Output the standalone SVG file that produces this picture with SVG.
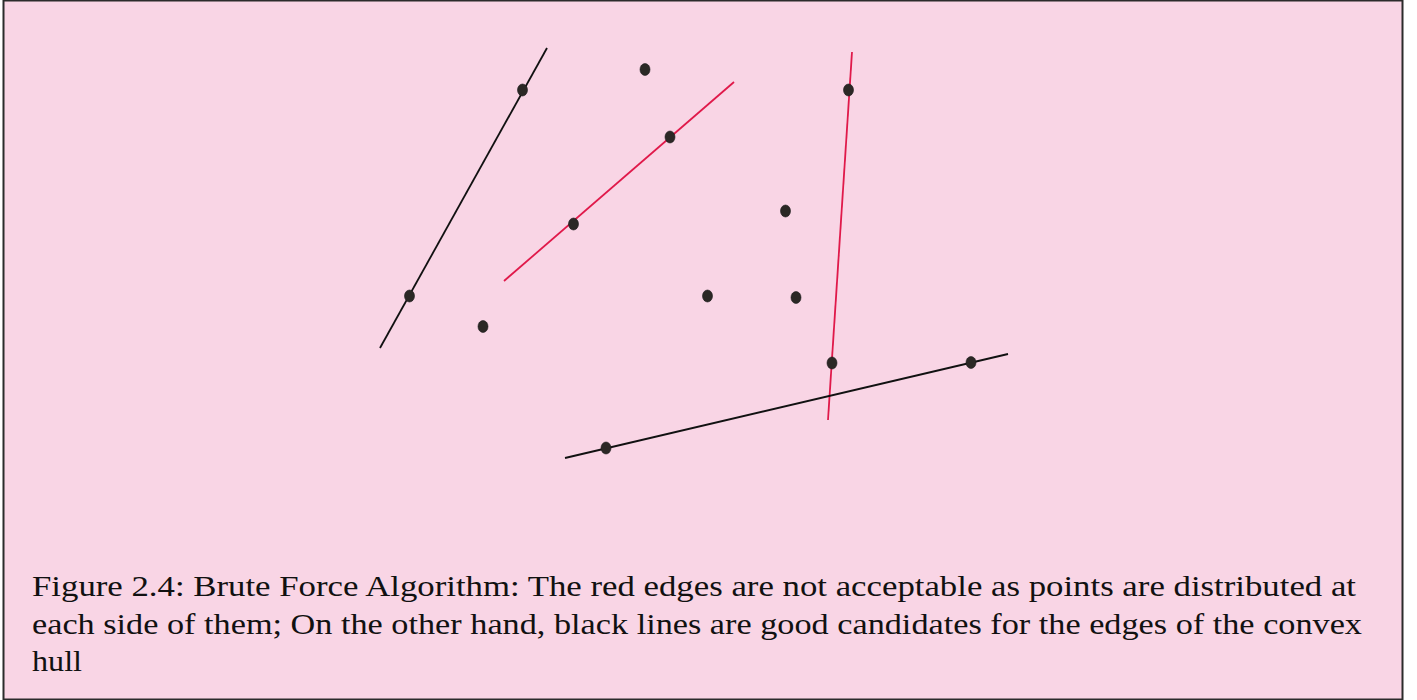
<svg xmlns="http://www.w3.org/2000/svg" width="1417" height="700" viewBox="0 0 1417 700">
<style>
.bg{fill:#f9d5e5;stroke:#2b2b2b;stroke-width:2}
.good{stroke:#111;stroke-width:1.8;fill:none}
.bad{stroke:#e0194a;stroke-width:1.8;fill:none}
.pt{fill:#2b2825;stroke:#1a1a1a;stroke-width:0.6}
.cap{font-family:"Liberation Serif","DejaVu Serif",serif;font-size:29.5px;fill:#111}
</style>
<rect x="0" y="0" width="1417" height="700" fill="#ffffff"/>
<rect class="bg" x="3.5" y="0.5" width="1399" height="699"/>
<g id="connectors">
<line class="good" x1="380" y1="348" x2="547" y2="48"/>
<line class="bad" x1="504" y1="281" x2="734" y2="82"/>
<line class="bad" x1="852" y1="52" x2="828" y2="420"/>
<line class="good" x1="565" y1="458" x2="1008" y2="354"/>
</g>
<g id="p1"><ellipse class="pt" cx="522.5" cy="90" rx="5" ry="6"/></g>
<g id="p2"><ellipse class="pt" cx="409.5" cy="296" rx="5" ry="6"/></g>
<g id="p3"><ellipse class="pt" cx="483" cy="326.5" rx="5" ry="6"/></g>
<g id="p4"><ellipse class="pt" cx="645" cy="69.5" rx="5" ry="6"/></g>
<g id="p5"><ellipse class="pt" cx="670" cy="137" rx="5" ry="6"/></g>
<g id="p6"><ellipse class="pt" cx="573.5" cy="224" rx="5" ry="6"/></g>
<g id="p7"><ellipse class="pt" cx="785.5" cy="211" rx="5" ry="6"/></g>
<g id="p8"><ellipse class="pt" cx="707.5" cy="296" rx="5" ry="6"/></g>
<g id="p9"><ellipse class="pt" cx="796" cy="297.5" rx="5" ry="6"/></g>
<g id="p10"><ellipse class="pt" cx="848.5" cy="90" rx="5" ry="6"/></g>
<g id="p11"><ellipse class="pt" cx="832" cy="363" rx="5" ry="6"/></g>
<g id="p12"><ellipse class="pt" cx="971" cy="362.5" rx="5" ry="6"/></g>
<g id="p13"><ellipse class="pt" cx="606" cy="448" rx="5" ry="6"/></g>
<g id="caption">
<text class="cap" x="32" y="596" textLength="1324" lengthAdjust="spacingAndGlyphs">Figure 2.4: Brute Force Algorithm: The red edges are not acceptable as points are distributed at</text>
<text class="cap" x="32" y="634" textLength="1330" lengthAdjust="spacingAndGlyphs">each side of them; On the other hand, black lines are good candidates for the edges of the convex</text>
<text class="cap" x="32" y="671" textLength="50" lengthAdjust="spacingAndGlyphs">hull</text>
</g>
</svg>
